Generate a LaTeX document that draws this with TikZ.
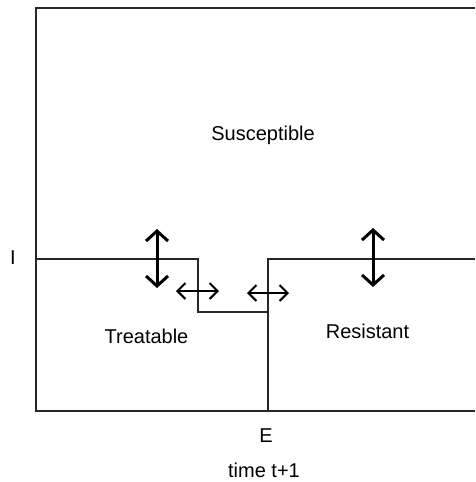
\documentclass[tikz,border=0pt]{standalone}
\usepackage{fontspec}
\setmainfont{Liberation Sans}
\usetikzlibrary{arrows.meta}

\tikzset{
  region/.style={line width=1.3pt, black!85},
  bigflow/.style={line width=3pt, {Straight Barb[length=10pt,width=22pt]}-{Straight Barb[length=10pt,width=22pt]}},
  smallflow/.style={line width=2pt, {Straight Barb[length=8pt,width=16pt]}-{Straight Barb[length=8pt,width=16pt]}},
  lab/.style={font=\fontsize{20}{24}\selectfont, inner sep=0pt, anchor=base, text=black}
}

\begin{document}
\begin{tikzpicture}[x=1pt, y=-1pt]
  \useasboundingbox (0,0) rectangle (475,482);
  % outer frame, open on the right
  \coordinate (tr) at (475,8);
  \coordinate (tl) at (36,8);
  \coordinate (bl) at (36,411);
  \coordinate (br) at (475,411);
  \draw[region] (tr) -- (tl) -- (bl) -- (br);
  % boundary between the classes
  \coordinate (il) at (36,259);
  \coordinate (s1) at (198,259);
  \coordinate (s2) at (198,312);
  \coordinate (s3) at (268,312);
  \coordinate (eb) at (268,411);
  \coordinate (et) at (268,259);
  \coordinate (ir) at (475,259);
  \draw[region] (il) -- (s1) -- (s2) -- (s3);
  \draw[region] (eb) -- (et) -- (ir);

  \node[lab] (sus) at (263,140) {Susceptible};
  \node[lab] (tre) at (146.5,343) {Treatable};
  \node[lab] (res) at (367.5,338) {Resistant};
  \node[lab] (iax) at (13,264) {I};
  \node[lab] (eax) at (266,442) {E};
  \node[lab] (tim) at (264,477) {time t+1};

  \coordinate (a1) at (157,229); \coordinate (b1) at (157,288);
  \coordinate (a2) at (373,228); \coordinate (b2) at (373,287);
  \coordinate (a3) at (176,291); \coordinate (b3) at (219,291);
  \coordinate (a4) at (247,293); \coordinate (b4) at (289,293);
  \draw[bigflow] (a1) -- (b1);
  \draw[bigflow] (a2) -- (b2);
  \draw[smallflow] (a3) -- (b3);
  \draw[smallflow] (a4) -- (b4);
\end{tikzpicture}
\end{document}
